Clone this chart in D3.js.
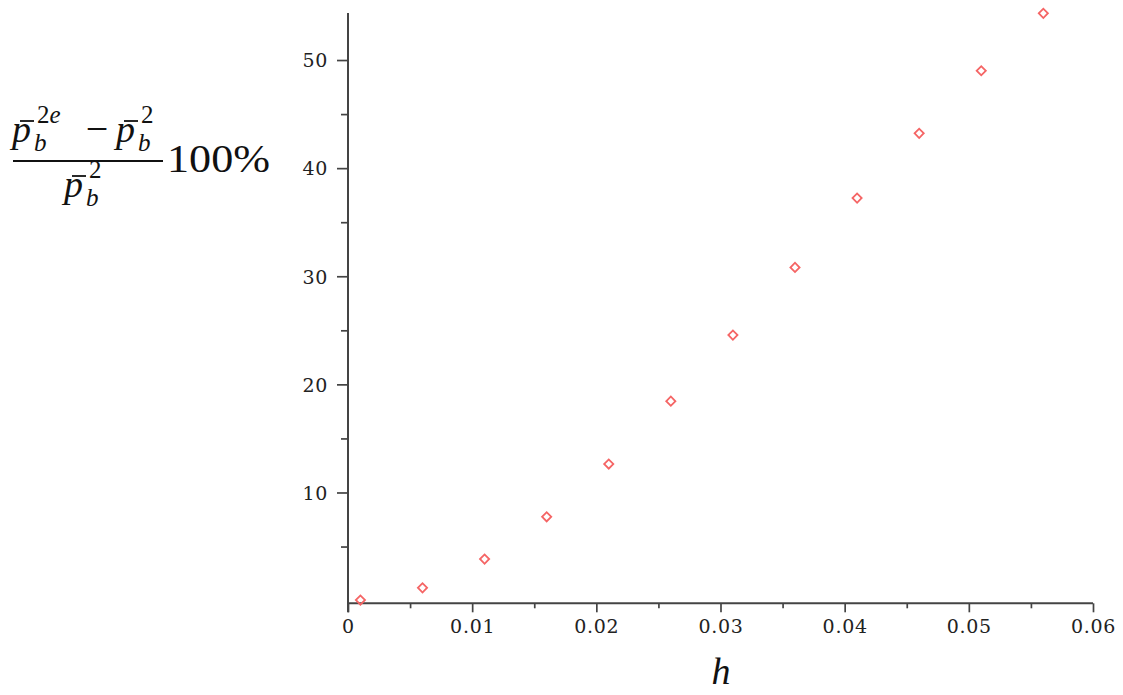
<!DOCTYPE html>
<html>
<head>
<meta charset="utf-8">
<script src="https://cdn.jsdelivr.net/npm/d3@7"></script>
<style>
  body { margin: 0; background: #fff; }
  svg { display: block; }
  .tick-label { font-family: 'DejaVu Serif', serif; font-size: 19px; fill: #222; letter-spacing: 0.7px; }
  .math { font-family: 'Liberation Serif', serif; fill: #111; }
</style>
</head>
<body>
<script>
// h values and relative difference (%)
const hValues = [0.001, 0.006, 0.011, 0.016, 0.021, 0.026, 0.031, 0.036, 0.041, 0.046, 0.051, 0.056]
const diffPercent = [0.05, 1.18, 3.84, 7.75, 12.63, 18.45, 24.56, 30.82, 37.23, 43.22, 49.01, 54.32]
const xMajorTicks = [0, 0.01, 0.02, 0.03, 0.04, 0.05, 0.06]
const xMinorTicks = [0.005, 0.015, 0.025, 0.035, 0.045, 0.055]
const yMajorTicks = [10, 20, 30, 40, 50]
const yMinorTicks = [5, 15, 25, 35, 45]

const width = 1123
const height = 695
const axisColor = '#444'
const markColor = '#f56565'

const svg = d3.select('body').append('svg')
  .attr('width', width)
  .attr('height', height)

const x = d3.scaleLinear().domain([0, 0.06]).range([348, 1093])
const y = d3.scaleLinear().domain([-0.25, 54.35]).range([603.3, 13])

// x axis (major ticks with labels, then minor ticks)
const xAxisG = svg.append('g').attr('transform', `translate(0, ${y(-0.25)})`)
xAxisG.call(d3.axisBottom(x).tickValues(xMajorTicks).tickSize(9).tickPadding(7)
  .tickFormat(d => d === 0 ? '0' : d3.format('.2f')(d)))
xAxisG.append('g').call(d3.axisBottom(x).tickValues(xMinorTicks).tickSize(5).tickFormat(''))

// y axis
const yAxisG = svg.append('g').attr('transform', `translate(${x(0)}, 0)`)
yAxisG.call(d3.axisLeft(y).tickValues(yMajorTicks).tickSize(11).tickPadding(9))
yAxisG.append('g').call(d3.axisLeft(y).tickValues(yMinorTicks).tickSize(7).tickFormat(''))

svg.selectAll('.domain').remove()
svg.append('line').attr('x1', x(0)).attr('x2', x(0.06))
  .attr('y1', y(-0.25)).attr('y2', y(-0.25))
  .attr('stroke', axisColor).attr('stroke-width', 2)
svg.append('line').attr('x1', x(0)).attr('x2', x(0))
  .attr('y1', y(-0.25) + 9).attr('y2', y(54.35))
  .attr('stroke', axisColor).attr('stroke-width', 2)

svg.selectAll('.tick line').attr('stroke', axisColor).attr('stroke-width', 1.7)
svg.selectAll('.tick text').attr('class', 'tick-label').attr('fill', null)
yAxisG.selectAll('.tick text').attr('dy', '0.36em')

// data markers: hollow diamonds
const diamond = d3.symbol().type(d3.symbolSquare).size(42)
svg.append('g').selectAll('path')
  .data(hValues.map((h, i) => ({ h, v: diffPercent[i] })))
  .join('path')
  .attr('d', diamond)
  .attr('transform', d => `translate(${x(d.h)}, ${y(d.v)}) rotate(45)`)
  .attr('fill', 'none')
  .attr('stroke', markColor)
  .attr('stroke-width', 1.8)

// x label
svg.append('text').attr('class', 'math')
  .attr('x', 721).attr('y', 684)
  .attr('text-anchor', 'middle')
  .style('font-size', '38px').style('font-style', 'italic')
  .text('h')

// y label: (p̄_b^{2e} − p̄_b^2) / p̄_b^2 · 100%
const pBar = (g, px, baseline, sup) => {
  g.append('text').attr('class', 'math').attr('x', px).attr('y', baseline)
    .style('font-size', '38px').style('font-style', 'italic').text('p')
  g.append('line').attr('x1', px + 8).attr('x2', px + 22)
    .attr('y1', baseline - 21).attr('y2', baseline - 21)
    .attr('stroke', '#111').attr('stroke-width', 1.8)
  g.append('text').attr('class', 'math').attr('x', px + 22).attr('y', baseline + 9)
    .style('font-size', '25px').style('font-style', 'italic').text('b')
  const supEl = g.append('text').attr('class', 'math').attr('x', px + 25).attr('y', baseline - 19)
    .style('font-size', '25px')
  supEl.append('tspan').text('2')
  if (sup === '2e') supEl.append('tspan').style('font-style', 'italic').text('e')
}

const labelG = svg.append('g')
pBar(labelG, 12, 142, '2e')
labelG.append('text').attr('class', 'math').attr('x', 97).attr('y', 142)
  .attr('text-anchor', 'middle').style('font-size', '40px').text('\u2212')
pBar(labelG, 116, 142, '2')
labelG.append('line').attr('x1', 13).attr('x2', 163).attr('y1', 161).attr('y2', 161)
  .attr('stroke', '#111').attr('stroke-width', 2)
pBar(labelG, 64, 197, '2')
labelG.append('text').attr('class', 'math').attr('x', 167).attr('y', 172)
  .style('font-size', '40px').attr('textLength', 103).attr('lengthAdjust', 'spacingAndGlyphs')
  .text('100%')
</script>
</body>
</html>
